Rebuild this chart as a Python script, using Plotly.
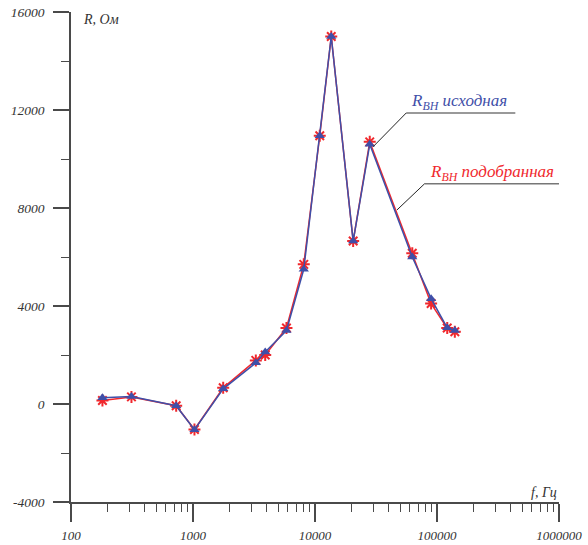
import plotly.graph_objects as go

# Frequencies (Hz)
freq = [181, 313, 728, 1028, 1768, 3273, 3908, 5835, 8090, 10940, 13590, 20550, 28100, 62700, 89500, 121300, 140000]
# R_BH исходная (blue)
r_orig = [260, 310, -70, -1050, 620, 1680, 2120, 3000, 5500, 10950, 15000, 6650, 10600, 6000, 4300, 3110, 3000]
# R_BH подобранная (red)
r_fit = [140, 290, -70, -1040, 660, 1780, 2000, 3100, 5700, 10950, 15000, 6650, 10700, 6150, 4100, 3100, 2950]

x_tickvals = [100, 1000, 10000, 100000, 1000000]
x_ticktext = ["100", "1000", "10000", "100000", "1000000"]
x_minorvals = [m * d for d in [100, 1000, 10000, 100000] for m in range(2, 10)]
y_tickvals = [-4000, 0, 4000, 8000, 12000, 16000]
y_ticktext = ["-4000", "0", "4000", "8000", "12000", "16000"]

BLUE = "#3F4FA8"
RED = "#F0282D"
AXIS = "#4A4A4A"
FONT = "Liberation Serif"

fig = go.Figure()
fig.add_trace(go.Scatter(
    x=freq, y=r_fit, mode="lines+markers",
    line=dict(color=RED, width=1.5),
    marker=dict(symbol="asterisk-open", size=10, line=dict(color=RED, width=2)),
    showlegend=False))
fig.add_trace(go.Scatter(
    x=freq, y=r_orig, mode="lines+markers",
    line=dict(color=BLUE, width=1.5),
    marker=dict(symbol="triangle-up", size=9, color=BLUE),
    showlegend=False))

ytickfont = dict(family=FONT, size=13.5, color="#333333", style="italic")
xtickfont = dict(family=FONT, size=13, color="#333333", style="italic")

fig.update_layout(
    xaxis=dict(
        type="log", range=[2, 6],
        tickmode="array", tickvals=x_tickvals, ticktext=x_ticktext,
        ticks="outside", ticklen=18, tickwidth=1.5, tickcolor=AXIS,
        showline=True, linecolor=AXIS, linewidth=1.5,
        showgrid=False, zeroline=False, automargin=False,
        tickfont=xtickfont, ticklabelstandoff=3, ticklabeloverflow="allow"),
    xaxis2=dict(
        type="log", range=[2, 6], overlaying="x", side="bottom", anchor="y",
        tickmode="array", tickvals=x_minorvals,
        ticks="outside", ticklen=9, tickwidth=1.2, tickcolor=AXIS,
        showline=False, showgrid=False, zeroline=False, automargin=False,
        showticklabels=False),
    yaxis=dict(
        range=[-4000, 16000],
        tickmode="array", tickvals=y_tickvals, ticktext=y_ticktext,
        ticks="outside", ticklen=16, tickwidth=1.5, tickcolor=AXIS,
        minor=dict(ticks="outside", ticklen=8, tickwidth=1.2, tickcolor=AXIS, dtick=2000, showgrid=False),
        showline=True, linecolor=AXIS, linewidth=1.5,
        showgrid=False, zeroline=False, automargin=False,
        tickfont=ytickfont, ticklabelstandoff=6, ticklabeloverflow="allow"),
)
# invisible trace to activate the minor-tick axis
fig.add_trace(go.Scatter(x=[freq[0]], y=[r_orig[0]], xaxis="x2", yaxis="y",
                         mode="markers", marker=dict(opacity=0), showlegend=False, hoverinfo="skip"))

annots = [
    dict(text="R, Ом", x=0.021, y=0.985, xanchor="left", yanchor="middle",
         font=dict(family=FONT, size=14, color="#333333", style="italic")),
    dict(text="f, Гц", x=1.0, y=0.019, xanchor="right", yanchor="middle",
         font=dict(family=FONT, size=14, color="#333333", style="italic")),
    dict(text="R<sub>BH</sub> исходная", x=0.6934, y=0.817, xanchor="left", yanchor="middle",
         font=dict(family=FONT, size=17, color=BLUE, style="italic")),
    dict(text="R<sub>BH</sub> подобранная", x=0.7315, y=0.672, xanchor="left", yanchor="middle",
         font=dict(family=FONT, size=17, color=RED, style="italic")),
]
for a in annots:
    a.update(xref="paper", yref="paper", showarrow=False)

shapes = [
    dict(type="line", x0=0.687, x1=0.9105, y0=0.794, y1=0.794, line=dict(color="#777777", width=1.5)),
    dict(type="line", x0=0.687, x1=0.619, y0=0.794, y1=0.725, line=dict(color="#222222", width=1)),
    dict(type="line", x0=0.7247, x1=1.0, y0=0.6496, y1=0.6496, line=dict(color="#777777", width=1.5)),
    dict(type="line", x0=0.7247, x1=0.668, y0=0.6496, y1=0.596, line=dict(color="#222222", width=1)),
]
for s in shapes:
    s.update(xref="paper", yref="paper")

fig.update_layout(
    width=588, height=545,
    margin=dict(l=70.5, r=29.3, t=12, b=43),
    plot_bgcolor="white", paper_bgcolor="white",
    annotations=annots, shapes=shapes)

fig.write_html("out.html", config={"displayModeBar": False},
               post_script="document.body.style.margin='0';")
